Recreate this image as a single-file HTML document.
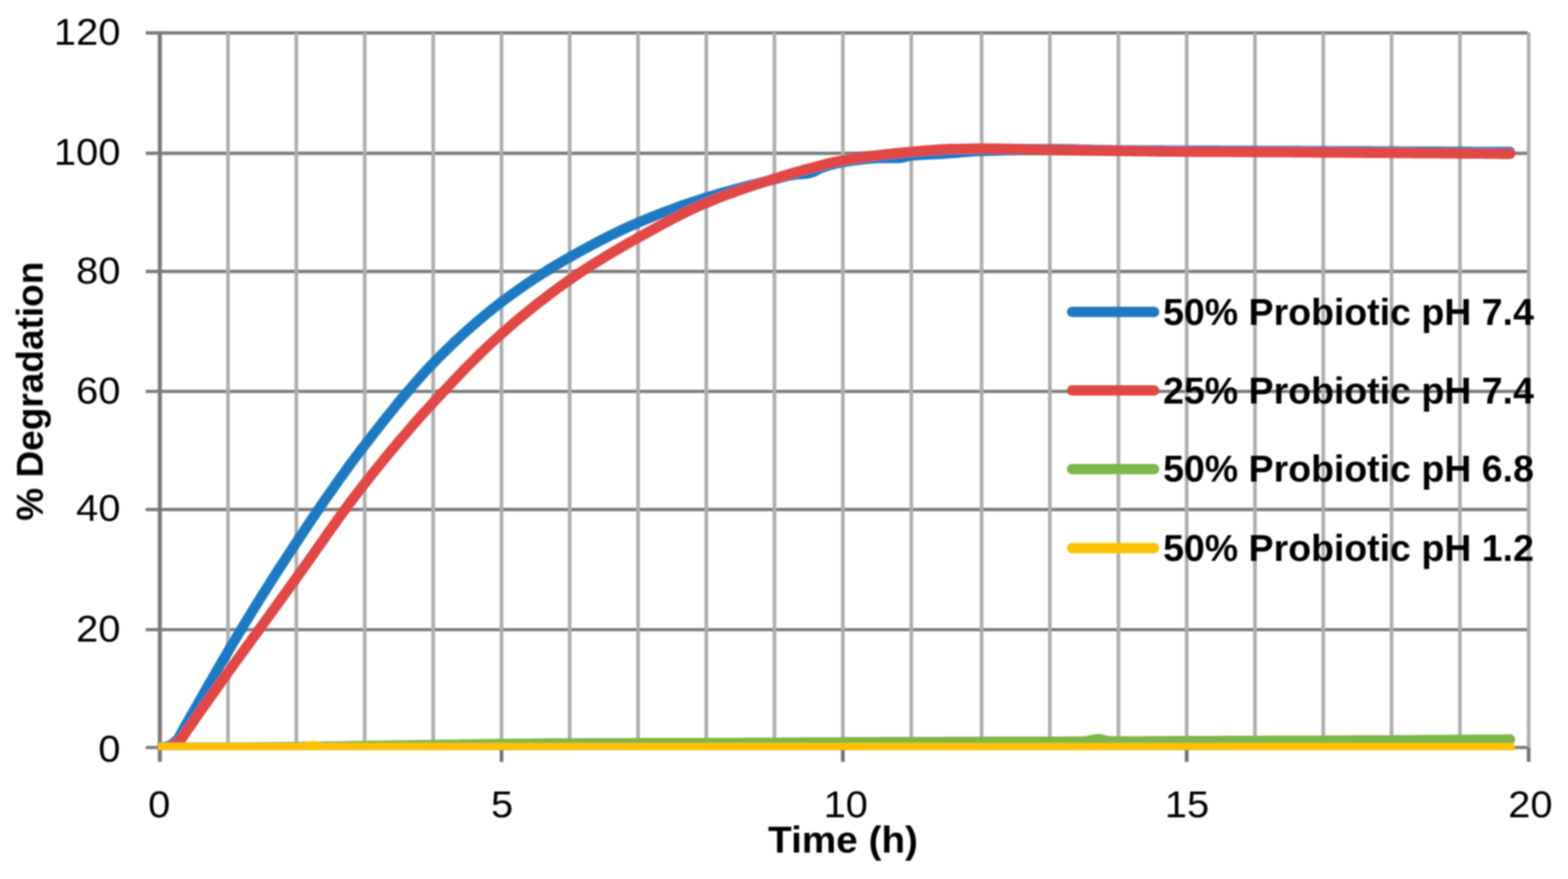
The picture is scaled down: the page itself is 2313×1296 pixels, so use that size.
<!DOCTYPE html>
<html lang="en"><head><meta charset="utf-8"><title>% Degradation vs Time (h)</title>
<style>
html,body{margin:0;padding:0;background:#fff;}
body{width:2313px;height:1296px;overflow:hidden;}
svg{display:block;}
text{font-family:"Liberation Sans",sans-serif;fill:#000;font-size:56px;}
.b{font-weight:bold;}
.s{fill:none;stroke-width:15.2;stroke-linejoin:round;stroke-linecap:round;}
</style></head><body>
<svg width="2313" height="1296" viewBox="0 0 2313 1296">
<defs>
<filter id="bl" x="-5%" y="-5%" width="110%" height="110%"><feGaussianBlur stdDeviation="1.0"/></filter>
<filter id="bt" x="-5%" y="-20%" width="110%" height="140%"><feGaussianBlur stdDeviation="0.9"/></filter>
<clipPath id="cp"><rect x="232.8" y="0" width="2040" height="1106"/></clipPath>
</defs>
<rect width="2313" height="1296" fill="#fff"/>
<g filter="url(#bl)">
<g stroke="#7c7c7c" stroke-width="4.9">
<line x1="214.9" x2="2253.5" y1="1102.1" y2="1102.1"/>
<line x1="214.9" x2="2253.5" y1="928.4" y2="928.4"/>
<line x1="214.9" x2="2253.5" y1="751.2" y2="751.2"/>
<line x1="214.9" x2="2253.5" y1="577.1" y2="577.1"/>
<line x1="214.9" x2="2253.5" y1="400.2" y2="400.2"/>
<line x1="214.9" x2="2253.5" y1="226.0" y2="226.0"/>
<line x1="214.9" x2="2253.5" y1="48.5" y2="48.5"/>
</g>
<g stroke="#adadad" stroke-width="5.4">
<line x1="336.4" x2="336.4" y1="48" y2="1102.1"/>
<line x1="437.1" x2="437.1" y1="48" y2="1102.1"/>
<line x1="538" x2="538" y1="48" y2="1102.1"/>
<line x1="639" x2="639" y1="48" y2="1102.1"/>
<line x1="739.8" x2="739.8" y1="48" y2="1102.1"/>
<line x1="840.3" x2="840.3" y1="48" y2="1102.1"/>
<line x1="941.2" x2="941.2" y1="48" y2="1102.1"/>
<line x1="1041.9" x2="1041.9" y1="48" y2="1102.1"/>
<line x1="1142.4" x2="1142.4" y1="48" y2="1102.1"/>
<line x1="1243.3" x2="1243.3" y1="48" y2="1102.1"/>
<line x1="1344.3" x2="1344.3" y1="48" y2="1102.1"/>
<line x1="1448" x2="1448" y1="48" y2="1102.1"/>
<line x1="1548.7" x2="1548.7" y1="48" y2="1102.1"/>
<line x1="1649.8" x2="1649.8" y1="48" y2="1102.1"/>
<line x1="1750.5" x2="1750.5" y1="48" y2="1102.1"/>
<line x1="1851.2" x2="1851.2" y1="48" y2="1102.1"/>
<line x1="1952" x2="1952" y1="48" y2="1102.1"/>
<line x1="2052.7" x2="2052.7" y1="48" y2="1102.1"/>
<line x1="2153.6" x2="2153.6" y1="48" y2="1102.1"/>
<line x1="2255" x2="2255" y1="48" y2="1102.1"/>
</g>
<line x1="235.8" x2="235.8" y1="50" y2="1123.3" stroke="#7a7a7a" stroke-width="6.0"/>
<g stroke="#707070" stroke-width="5.4">
<line x1="739.8" x2="739.8" y1="1102.1" y2="1123.3"/>
<line x1="1243.3" x2="1243.3" y1="1102.1" y2="1123.3"/>
<line x1="1750.5" x2="1750.5" y1="1102.1" y2="1123.3"/>
<line x1="2255" x2="2255" y1="1102.1" y2="1123.3"/>
</g>
</g>
<g filter="url(#bl)">
<g clip-path="url(#cp)">
<path class="s" stroke="#1d79c2" d="M235.8,1102.1 L239.8,1102.1 L242.4,1101.8 L245.9,1100.8 L249.1,1099.6 L251.9,1098.2 L255.7,1095.6 L256.9,1094.7 L261.7,1090.7 L262.4,1089.9 L269.0,1078.1 L271.0,1074.3 L275.6,1066.2 L282.3,1054.5 L288.9,1042.9 L295.5,1031.2 L302.2,1019.6 L308.8,1008.0 L312.7,1001.4 L315.5,996.5 L322.1,985.0 L328.7,973.6 L335.4,962.3 L336.4,960.5 L342.0,951.0 L348.7,939.8 L355.3,928.8 L355.5,928.4 L362.0,917.8 L368.6,907.0 L375.2,896.2 L381.9,885.5 L388.5,875.0 L395.2,864.5 L401.8,854.0 L408.5,843.7 L415.1,833.4 L421.8,823.2 L428.4,813.1 L435.0,803.0 L437.1,799.9 L441.7,793.0 L448.4,783.0 L455.0,773.0 L461.7,763.1 L468.3,753.2 L475.0,743.4 L481.6,733.8 L488.3,724.3 L495.0,714.8 L501.6,705.4 L508.3,696.2 L514.9,687.0 L521.6,678.0 L528.3,669.1 L534.9,660.3 L538.0,656.3 L541.6,651.7 L548.2,643.1 L554.9,634.6 L561.6,626.1 L568.2,617.7 L574.9,609.4 L581.6,601.2 L588.2,593.0 L594.9,585.0 L601.6,577.2 L608.2,569.4 L614.9,561.7 L621.5,554.2 L628.2,546.9 L634.9,539.8 L639.0,535.5 L641.5,532.9 L648.2,526.2 L654.8,519.6 L661.5,513.0 L668.1,506.6 L674.8,500.4 L681.4,494.2 L688.1,488.2 L694.8,482.3 L701.4,476.5 L708.1,470.8 L714.7,465.2 L721.4,459.8 L728.0,454.4 L734.7,449.2 L739.8,445.3 L741.3,444.2 L747.9,439.2 L754.6,434.3 L761.2,429.6 L767.8,424.9 L774.5,420.3 L781.1,415.8 L787.7,411.4 L794.4,407.0 L801.0,402.8 L807.6,398.6 L814.3,394.6 L820.9,390.6 L827.5,386.7 L834.1,382.8 L840.3,379.3 L840.8,379.0 L847.4,375.3 L854.1,371.6 L860.8,367.9 L867.4,364.3 L874.1,360.7 L880.7,357.2 L887.4,353.7 L894.0,350.4 L900.7,347.0 L907.4,343.8 L914.0,340.6 L920.7,337.5 L927.3,334.4 L934.0,331.5 L940.7,328.6 L941.2,328.3 L947.3,325.8 L953.9,323.0 L960.6,320.3 L967.2,317.7 L973.9,315.0 L980.5,312.5 L987.2,310.0 L993.8,307.5 L1000.5,305.1 L1007.1,302.8 L1013.7,300.5 L1020.4,298.3 L1027.0,296.1 L1033.7,293.9 L1040.3,291.8 L1041.9,291.3 L1047.0,289.8 L1053.6,287.8 L1060.2,285.8 L1066.9,283.9 L1073.5,282.1 L1080.1,280.2 L1086.8,278.4 L1093.4,276.7 L1100.0,274.9 L1106.6,273.2 L1113.3,271.6 L1119.9,269.9 L1126.5,268.2 L1133.2,266.6 L1139.8,265.0 L1142.4,264.3 L1146.5,263.3 L1153.1,261.5 L1159.8,259.8 L1166.4,258.4 L1172.7,257.4 L1173.1,257.3 L1179.7,256.7 L1186.4,256.3 L1192.8,255.6 L1193.1,255.6 L1199.7,253.4 L1206.4,249.9 L1213.0,246.9 L1213.0,246.9 L1219.7,244.8 L1226.3,242.8 L1233.0,241.1 L1239.7,239.7 L1243.3,239.1 L1246.3,238.6 L1253.0,237.6 L1259.7,236.6 L1266.3,235.7 L1273.0,234.9 L1279.6,234.2 L1286.3,233.7 L1293.0,233.2 L1299.6,233.0 L1303.9,233.0 L1306.3,233.0 L1313.0,233.0 L1319.6,233.0 L1324.1,233.0 L1326.3,232.9 L1333.0,231.8 L1339.6,230.2 L1344.3,229.5 L1346.3,229.3 L1353.2,228.7 L1360.0,228.2 L1366.9,227.8 L1373.7,227.5 L1380.6,227.2 L1387.4,226.8 L1394.2,226.4 L1401.1,226.0 L1401.3,226.0 L1407.9,225.5 L1414.8,224.9 L1421.6,224.3 L1428.5,223.7 L1435.3,223.2 L1442.1,222.7 L1448.0,222.4 L1449.0,222.4 L1455.6,222.1 L1462.3,221.9 L1468.9,221.6 L1475.5,221.3 L1482.2,221.1 L1488.8,220.9 L1495.5,220.7 L1502.1,220.5 L1508.8,220.3 L1515.4,220.2 L1522.1,220.0 L1528.7,219.9 L1535.3,219.9 L1542.0,219.8 L1548.6,219.8 L1548.7,219.8 L1555.3,219.8 L1562.0,219.9 L1568.6,219.9 L1575.3,220.1 L1582.0,220.2 L1588.7,220.3 L1595.3,220.5 L1602.0,220.6 L1608.7,220.8 L1615.3,221.0 L1622.0,221.1 L1628.7,221.3 L1635.4,221.4 L1642.0,221.5 L1648.7,221.6 L1649.8,221.6 L1655.4,221.6 L1662.0,221.7 L1668.6,221.7 L1675.3,221.7 L1681.9,221.8 L1688.6,221.8 L1695.2,221.8 L1701.9,221.9 L1708.5,221.9 L1715.2,221.9 L1721.8,222.0 L1728.4,222.0 L1735.1,222.0 L1741.7,222.0 L1748.4,222.1 L1755.0,222.1 L1761.7,222.1 L1768.3,222.1 L1775.0,222.2 L1781.6,222.2 L1788.3,222.2 L1794.9,222.2 L1801.5,222.3 L1808.2,222.3 L1814.8,222.3 L1821.5,222.3 L1828.1,222.4 L1834.8,222.4 L1841.4,222.4 L1848.1,222.4 L1851.2,222.4 L1854.7,222.5 L1861.4,222.5 L1868.0,222.5 L1874.7,222.6 L1881.3,222.6 L1888.0,222.6 L1894.6,222.6 L1901.3,222.7 L1907.9,222.7 L1914.6,222.7 L1921.2,222.8 L1927.9,222.8 L1934.5,222.8 L1941.2,222.9 L1947.8,222.9 L1954.5,222.9 L1961.1,223.0 L1967.8,223.0 L1974.4,223.0 L1981.1,223.0 L1987.7,223.1 L1994.3,223.1 L2001.0,223.1 L2007.6,223.2 L2014.3,223.2 L2020.9,223.2 L2027.6,223.3 L2034.2,223.3 L2040.9,223.3 L2047.5,223.4 L2054.1,223.4 L2060.8,223.4 L2067.5,223.5 L2074.1,223.5 L2080.8,223.5 L2087.4,223.5 L2094.1,223.6 L2100.8,223.6 L2107.4,223.6 L2114.1,223.7 L2120.7,223.7 L2127.4,223.7 L2134.0,223.8 L2140.7,223.8 L2147.4,223.8 L2154.0,223.9 L2160.7,223.9 L2167.4,223.9 L2174.1,224.0 L2180.8,224.0 L2187.5,224.0 L2194.2,224.1 L2200.9,224.1 L2207.5,224.1 L2214.2,224.2 L2220.9,224.2 L2227.6,224.2"/>
<path class="s" stroke="#e04644" d="M235.8,1102.1 L242.4,1102.1 L243.8,1102.1 L249.1,1101.0 L249.9,1100.8 L255.7,1098.3 L255.9,1098.2 L261.5,1094.7 L262.4,1094.1 L266.5,1090.7 L269.0,1087.7 L275.6,1077.5 L276.0,1076.9 L282.3,1068.0 L288.9,1058.5 L295.5,1049.0 L302.2,1039.6 L308.8,1030.2 L315.5,1020.8 L322.1,1011.4 L328.7,1002.1 L335.4,992.8 L336.4,991.4 L342.0,983.6 L348.7,974.4 L355.3,965.2 L362.0,956.1 L368.6,947.0 L375.2,937.9 L381.9,928.9 L382.2,928.4 L388.5,919.6 L395.2,910.4 L401.8,901.1 L408.5,891.9 L415.1,882.7 L421.8,873.5 L428.4,864.3 L435.0,855.1 L437.1,852.2 L441.7,845.8 L448.4,836.5 L455.0,827.1 L461.7,817.7 L468.3,808.2 L475.0,798.8 L481.6,789.3 L488.3,779.9 L495.0,770.5 L501.6,761.2 L508.3,752.0 L514.9,743.0 L521.6,734.1 L528.3,725.4 L534.9,716.8 L538.0,712.9 L541.6,708.4 L548.2,700.0 L554.9,691.7 L561.6,683.5 L568.2,675.3 L574.9,667.2 L581.6,659.2 L588.2,651.2 L594.9,643.4 L601.6,635.6 L608.2,627.9 L614.9,620.3 L621.5,612.8 L628.2,605.4 L634.9,598.1 L639.0,593.6 L641.5,590.9 L648.2,583.8 L654.8,576.7 L661.5,569.5 L668.1,562.5 L674.8,555.5 L681.4,548.5 L688.1,541.7 L694.8,535.0 L701.4,528.3 L708.1,521.8 L714.7,515.4 L721.4,509.0 L728.0,502.8 L734.7,496.8 L739.8,492.2 L741.3,490.9 L747.9,485.0 L754.6,479.3 L761.2,473.6 L767.8,468.0 L774.5,462.6 L781.1,457.2 L787.7,451.8 L794.4,446.6 L801.0,441.5 L807.6,436.4 L814.3,431.4 L820.9,426.5 L827.5,421.7 L834.1,416.9 L840.3,412.6 L840.8,412.2 L847.4,407.7 L854.1,403.1 L860.8,398.7 L867.4,394.4 L874.1,390.2 L880.7,386.0 L887.4,381.9 L894.0,377.8 L900.7,373.8 L907.4,369.9 L914.0,366.0 L920.7,362.2 L927.3,358.3 L934.0,354.6 L940.7,350.9 L941.2,350.6 L947.3,347.2 L953.9,343.5 L960.6,339.8 L967.2,336.1 L973.9,332.5 L980.5,328.9 L987.2,325.4 L993.8,321.9 L1000.5,318.5 L1007.1,315.2 L1013.7,311.9 L1020.4,308.7 L1027.0,305.7 L1033.7,302.7 L1040.3,299.8 L1041.9,299.2 L1047.0,297.1 L1053.6,294.4 L1060.2,291.8 L1066.9,289.2 L1073.5,286.7 L1080.1,284.3 L1086.8,281.9 L1093.4,279.6 L1100.0,277.3 L1106.6,275.1 L1113.3,272.9 L1119.9,270.7 L1126.5,268.5 L1133.2,266.4 L1139.8,264.3 L1142.4,263.5 L1146.5,262.2 L1153.1,260.1 L1159.8,258.1 L1166.4,256.1 L1173.1,254.1 L1179.7,252.2 L1186.4,250.4 L1192.8,248.6 L1193.1,248.6 L1199.7,246.8 L1206.4,245.0 L1213.0,243.3 L1219.7,241.5 L1226.3,239.9 L1233.0,238.4 L1239.7,237.1 L1243.3,236.5 L1246.3,235.9 L1253.0,234.8 L1259.7,233.8 L1266.3,232.8 L1273.0,231.8 L1279.6,230.9 L1286.3,230.0 L1293.0,229.2 L1299.6,228.4 L1306.3,227.6 L1313.0,226.8 L1319.6,226.1 L1326.3,225.5 L1333.0,224.8 L1339.6,224.2 L1344.3,223.8 L1346.3,223.6 L1353.2,223.0 L1360.0,222.4 L1366.9,221.8 L1373.7,221.3 L1380.6,220.8 L1387.4,220.4 L1394.2,220.0 L1401.1,219.7 L1406.5,219.6 L1407.9,219.6 L1414.8,219.5 L1421.6,219.4 L1428.5,219.3 L1435.3,219.2 L1442.1,219.1 L1449.0,219.1 L1455.6,219.1 L1458.1,219.1 L1462.3,219.1 L1468.9,219.1 L1475.5,219.2 L1482.2,219.3 L1488.8,219.4 L1495.5,219.6 L1502.1,219.7 L1508.8,219.9 L1515.4,220.1 L1522.1,220.2 L1528.7,220.4 L1535.3,220.6 L1542.0,220.7 L1548.6,220.9 L1548.7,220.9 L1555.3,221.0 L1562.0,221.1 L1568.6,221.2 L1575.3,221.3 L1582.0,221.4 L1588.7,221.5 L1595.3,221.6 L1602.0,221.7 L1608.7,221.8 L1615.3,221.9 L1622.0,222.0 L1628.7,222.1 L1635.4,222.2 L1642.0,222.3 L1648.7,222.4 L1649.8,222.4 L1655.4,222.5 L1662.0,222.6 L1668.6,222.7 L1675.3,222.8 L1681.9,222.9 L1688.6,223.0 L1695.2,223.1 L1701.9,223.2 L1708.5,223.3 L1715.2,223.3 L1721.8,223.4 L1728.4,223.5 L1735.1,223.6 L1741.7,223.6 L1748.4,223.7 L1750.5,223.7 L1755.0,223.7 L1761.7,223.8 L1768.3,223.8 L1775.0,223.8 L1781.6,223.9 L1788.3,223.9 L1794.9,224.0 L1801.5,224.0 L1808.2,224.0 L1814.8,224.0 L1821.5,224.1 L1828.1,224.1 L1834.8,224.1 L1841.4,224.2 L1848.1,224.2 L1851.2,224.2 L1854.7,224.2 L1861.4,224.3 L1868.0,224.3 L1874.7,224.4 L1881.3,224.4 L1888.0,224.4 L1894.6,224.5 L1901.3,224.5 L1907.9,224.6 L1914.6,224.6 L1921.2,224.7 L1927.9,224.7 L1934.5,224.7 L1941.2,224.8 L1947.8,224.8 L1954.5,224.9 L1961.1,224.9 L1967.8,224.9 L1974.4,225.0 L1981.1,225.0 L1987.7,225.1 L1994.3,225.1 L2001.0,225.2 L2007.6,225.2 L2014.3,225.3 L2020.9,225.3 L2027.6,225.4 L2034.2,225.4 L2040.9,225.4 L2047.5,225.5 L2054.1,225.5 L2060.8,225.6 L2067.5,225.6 L2074.1,225.7 L2080.8,225.7 L2087.4,225.8 L2094.1,225.8 L2100.8,225.9 L2107.4,225.9 L2114.1,226.0 L2120.7,226.0 L2127.4,226.1 L2134.0,226.1 L2140.7,226.2 L2147.4,226.2 L2154.0,226.3 L2160.7,226.3 L2167.4,226.4 L2174.1,226.4 L2180.8,226.5 L2187.5,226.5 L2194.2,226.6 L2200.9,226.7 L2207.5,226.7 L2214.2,226.8 L2220.9,226.8 L2227.6,226.9"/>
<path class="s" stroke="#7eb648" d="M235.8,1102.1 L242.4,1102.1 L249.1,1102.1 L255.7,1102.1 L262.4,1102.1 L269.0,1102.1 L275.6,1102.1 L282.3,1102.1 L288.9,1102.1 L295.5,1102.1 L302.2,1102.1 L308.8,1102.1 L315.5,1102.1 L322.1,1102.1 L328.7,1102.1 L335.4,1102.1 L336.4,1102.1 L342.0,1102.1 L348.7,1102.1 L355.3,1102.1 L362.0,1102.0 L368.6,1102.0 L375.2,1101.9 L381.9,1101.9 L388.5,1101.8 L395.2,1101.8 L401.8,1101.7 L408.5,1101.6 L415.1,1101.6 L421.8,1101.5 L428.4,1101.4 L435.0,1101.3 L437.1,1101.3 L441.7,1101.3 L448.4,1101.2 L455.0,1101.1 L461.7,1101.0 L468.3,1100.9 L475.0,1100.8 L481.6,1100.7 L488.3,1100.6 L495.0,1100.5 L501.6,1100.4 L508.3,1100.3 L514.9,1100.2 L521.6,1100.1 L528.3,1100.0 L534.9,1099.9 L538.0,1099.8 L541.6,1099.8 L548.2,1099.7 L554.9,1099.6 L561.6,1099.5 L568.2,1099.4 L574.9,1099.3 L581.6,1099.2 L588.2,1099.1 L594.9,1099.0 L601.6,1098.9 L608.2,1098.8 L614.9,1098.7 L621.5,1098.6 L628.2,1098.5 L634.9,1098.4 L639.0,1098.4 L641.5,1098.3 L648.2,1098.2 L654.8,1098.1 L661.5,1098.0 L668.1,1097.9 L674.8,1097.8 L681.4,1097.7 L688.1,1097.6 L694.8,1097.5 L701.4,1097.4 L708.1,1097.3 L714.7,1097.2 L721.4,1097.1 L728.0,1097.0 L734.7,1096.9 L739.8,1096.9 L741.3,1096.9 L747.9,1096.8 L754.6,1096.7 L761.2,1096.7 L767.8,1096.6 L774.5,1096.5 L781.1,1096.5 L787.7,1096.4 L794.4,1096.3 L801.0,1096.3 L807.6,1096.2 L814.3,1096.2 L820.9,1096.1 L827.5,1096.1 L834.1,1096.0 L840.3,1096.0 L840.8,1096.0 L847.4,1096.0 L854.1,1096.0 L860.8,1095.9 L867.4,1095.9 L874.1,1095.9 L880.7,1095.9 L887.4,1095.9 L894.0,1095.8 L900.7,1095.8 L907.4,1095.8 L914.0,1095.8 L920.7,1095.8 L927.3,1095.8 L934.0,1095.8 L940.7,1095.7 L947.3,1095.7 L953.9,1095.7 L960.6,1095.7 L967.2,1095.7 L973.9,1095.7 L980.5,1095.7 L987.2,1095.6 L993.8,1095.6 L1000.5,1095.6 L1007.1,1095.6 L1013.7,1095.6 L1020.4,1095.6 L1027.0,1095.5 L1033.7,1095.5 L1040.3,1095.5 L1041.9,1095.5 L1047.0,1095.5 L1053.6,1095.5 L1060.2,1095.4 L1066.9,1095.4 L1073.5,1095.4 L1080.1,1095.3 L1086.8,1095.3 L1093.4,1095.3 L1100.0,1095.2 L1106.6,1095.2 L1113.3,1095.2 L1119.9,1095.1 L1126.5,1095.1 L1133.2,1095.0 L1139.8,1095.0 L1146.5,1095.0 L1153.1,1094.9 L1159.8,1094.9 L1166.4,1094.9 L1173.1,1094.8 L1179.7,1094.8 L1186.4,1094.7 L1193.1,1094.7 L1199.7,1094.7 L1206.4,1094.6 L1213.0,1094.6 L1219.7,1094.6 L1226.3,1094.5 L1233.0,1094.5 L1239.7,1094.5 L1243.3,1094.5 L1246.3,1094.4 L1253.0,1094.4 L1259.7,1094.4 L1266.3,1094.4 L1273.0,1094.3 L1279.6,1094.3 L1286.3,1094.3 L1293.0,1094.3 L1299.6,1094.2 L1306.3,1094.2 L1313.0,1094.2 L1319.6,1094.2 L1326.3,1094.2 L1333.0,1094.1 L1339.6,1094.1 L1346.3,1094.1 L1353.2,1094.1 L1360.0,1094.0 L1366.9,1094.0 L1373.7,1094.0 L1380.6,1094.0 L1387.4,1094.0 L1394.2,1093.9 L1401.1,1093.9 L1407.9,1093.9 L1414.8,1093.9 L1421.6,1093.8 L1428.5,1093.8 L1435.3,1093.8 L1442.1,1093.8 L1448.0,1093.8 L1449.0,1093.8 L1455.6,1093.7 L1462.3,1093.7 L1468.9,1093.7 L1475.5,1093.7 L1482.2,1093.7 L1488.8,1093.7 L1495.5,1093.7 L1502.1,1093.6 L1508.8,1093.6 L1515.4,1093.6 L1522.1,1093.6 L1528.7,1093.6 L1535.3,1093.6 L1542.0,1093.6 L1548.6,1093.5 L1555.3,1093.5 L1562.0,1093.5 L1568.6,1093.5 L1575.3,1093.4 L1582.0,1093.4 L1588.7,1093.3 L1595.3,1093.3 L1599.2,1093.2 L1602.0,1093.1 L1608.7,1091.7 L1615.3,1090.3 L1619.5,1089.9 L1622.0,1090.1 L1628.7,1091.3 L1635.4,1092.8 L1639.7,1093.2 L1642.0,1093.2 L1648.7,1093.1 L1655.4,1093.1 L1662.0,1093.1 L1668.6,1093.1 L1675.3,1093.1 L1681.9,1093.0 L1688.6,1093.0 L1695.2,1092.9 L1701.9,1092.9 L1708.5,1092.9 L1715.2,1092.8 L1721.8,1092.8 L1728.4,1092.7 L1735.1,1092.7 L1741.7,1092.7 L1748.4,1092.6 L1750.5,1092.6 L1755.0,1092.6 L1761.7,1092.6 L1768.3,1092.6 L1775.0,1092.5 L1781.6,1092.5 L1788.3,1092.5 L1794.9,1092.5 L1801.5,1092.4 L1808.2,1092.4 L1814.8,1092.4 L1821.5,1092.4 L1828.1,1092.4 L1834.8,1092.3 L1841.4,1092.3 L1848.1,1092.3 L1854.7,1092.3 L1861.4,1092.3 L1868.0,1092.2 L1874.7,1092.2 L1881.3,1092.2 L1888.0,1092.2 L1894.6,1092.2 L1901.3,1092.1 L1907.9,1092.1 L1914.6,1092.1 L1921.2,1092.1 L1927.9,1092.0 L1934.5,1092.0 L1941.2,1092.0 L1947.8,1092.0 L1952.0,1091.9 L1954.5,1091.9 L1961.1,1091.9 L1967.8,1091.9 L1974.4,1091.8 L1981.1,1091.8 L1987.7,1091.8 L1994.3,1091.7 L2001.0,1091.7 L2007.6,1091.7 L2014.3,1091.7 L2020.9,1091.6 L2027.6,1091.6 L2034.2,1091.6 L2040.9,1091.5 L2047.5,1091.5 L2054.1,1091.4 L2060.8,1091.4 L2067.5,1091.4 L2074.1,1091.3 L2080.8,1091.3 L2087.4,1091.3 L2094.1,1091.2 L2100.8,1091.2 L2107.4,1091.1 L2114.1,1091.1 L2120.7,1091.1 L2127.4,1091.0 L2134.0,1091.0 L2140.7,1090.9 L2147.4,1090.9 L2154.0,1090.9 L2160.7,1090.8 L2167.4,1090.8 L2174.1,1090.7 L2180.8,1090.7 L2187.5,1090.6 L2194.2,1090.6 L2200.9,1090.6 L2207.5,1090.5 L2214.2,1090.5 L2220.9,1090.4 L2227.6,1090.4"/>
<path class="s" stroke="#ffc000" d="M235.8,1102.8 L242.4,1102.8 L249.1,1102.8 L255.7,1102.8 L262.4,1102.8 L269.0,1102.8 L275.6,1102.8 L282.3,1102.8 L288.9,1102.8 L295.5,1102.8 L302.2,1102.8 L308.8,1102.8 L315.5,1102.8 L322.1,1102.8 L328.7,1102.8 L335.4,1102.8 L342.0,1102.8 L348.7,1102.8 L355.3,1102.8 L362.0,1102.8 L368.6,1102.8 L375.2,1102.8 L381.9,1102.8 L388.5,1102.8 L395.2,1102.8 L401.8,1102.8 L408.5,1102.8 L415.1,1102.8 L421.8,1102.8 L428.4,1102.8 L435.0,1102.8 L441.7,1102.8 L447.2,1102.8 L448.4,1102.8 L455.0,1101.3 L461.7,1099.9 L462.3,1099.9 L468.3,1100.9 L475.0,1102.6 L477.5,1102.8 L481.6,1102.8 L488.3,1102.8 L495.0,1102.8 L501.6,1102.8 L508.3,1102.8 L514.9,1102.8 L521.6,1102.8 L528.3,1102.8 L534.9,1102.8 L541.6,1102.8 L548.2,1102.8 L554.9,1102.8 L561.6,1102.8 L568.2,1102.8 L574.9,1102.8 L581.6,1102.8 L588.2,1102.8 L594.9,1102.8 L601.6,1102.8 L608.2,1102.8 L614.9,1102.8 L621.5,1102.8 L628.2,1102.8 L634.9,1102.8 L641.5,1102.8 L648.2,1102.8 L654.8,1102.8 L661.5,1102.8 L668.1,1102.8 L674.8,1102.8 L681.4,1102.8 L688.1,1102.8 L694.8,1102.8 L701.4,1102.8 L708.1,1102.8 L714.7,1102.8 L721.4,1102.8 L728.0,1102.8 L734.7,1102.8 L741.3,1102.8 L747.9,1102.8 L754.6,1102.8 L761.2,1102.8 L767.8,1102.8 L774.5,1102.8 L781.1,1102.8 L787.7,1102.8 L794.4,1102.8 L801.0,1102.8 L807.6,1102.8 L814.3,1102.8 L820.9,1102.8 L827.5,1102.8 L834.1,1102.8 L840.8,1102.8 L847.4,1102.8 L854.1,1102.8 L860.8,1102.8 L867.4,1102.8 L874.1,1102.8 L880.7,1102.8 L887.4,1102.8 L894.0,1102.8 L900.7,1102.8 L907.4,1102.8 L914.0,1102.8 L920.7,1102.8 L927.3,1102.8 L934.0,1102.8 L940.7,1102.8 L947.3,1102.8 L953.9,1102.8 L960.6,1102.8 L967.2,1102.8 L973.9,1102.8 L980.5,1102.8 L987.2,1102.8 L993.8,1102.8 L1000.5,1102.8 L1007.1,1102.8 L1013.7,1102.8 L1020.4,1102.8 L1027.0,1102.8 L1033.7,1102.8 L1040.3,1102.8 L1047.0,1102.8 L1053.6,1102.8 L1060.2,1102.8 L1066.9,1102.8 L1073.5,1102.8 L1080.1,1102.8 L1086.8,1102.8 L1093.4,1102.8 L1100.0,1102.8 L1106.6,1102.8 L1113.3,1102.8 L1119.9,1102.8 L1126.5,1102.8 L1133.2,1102.8 L1139.8,1102.8 L1146.5,1102.8 L1153.1,1102.8 L1159.8,1102.8 L1166.4,1102.8 L1173.1,1102.8 L1179.7,1102.8 L1186.4,1102.8 L1193.1,1102.8 L1199.7,1102.8 L1206.4,1102.8 L1213.0,1102.8 L1219.7,1102.8 L1226.3,1102.8 L1233.0,1102.8 L1239.7,1102.8 L1246.3,1102.8 L1253.0,1102.8 L1259.7,1102.8 L1266.3,1102.8 L1273.0,1102.8 L1279.6,1102.8 L1286.3,1102.8 L1293.0,1102.8 L1299.6,1102.8 L1306.3,1102.8 L1313.0,1102.8 L1319.6,1102.8 L1326.3,1102.8 L1333.0,1102.8 L1339.6,1102.8 L1346.3,1102.8 L1353.2,1102.8 L1360.0,1102.8 L1366.9,1102.8 L1373.7,1102.8 L1380.6,1102.8 L1387.4,1102.8 L1394.2,1102.8 L1401.1,1102.8 L1407.9,1102.8 L1414.8,1102.8 L1421.6,1102.8 L1428.5,1102.8 L1435.3,1102.8 L1442.1,1102.8 L1449.0,1102.8 L1455.6,1102.8 L1462.3,1102.8 L1468.9,1102.8 L1475.5,1102.8 L1482.2,1102.8 L1488.8,1102.8 L1495.5,1102.8 L1502.1,1102.8 L1508.8,1102.8 L1515.4,1102.8 L1522.1,1102.8 L1528.7,1102.8 L1535.3,1102.8 L1542.0,1102.8 L1548.6,1102.8 L1555.3,1102.8 L1562.0,1102.8 L1568.6,1102.8 L1575.3,1102.8 L1582.0,1102.8 L1588.7,1102.8 L1595.3,1102.8 L1602.0,1102.8 L1608.7,1102.8 L1615.3,1102.8 L1622.0,1102.8 L1628.7,1102.8 L1635.4,1102.8 L1642.0,1102.8 L1648.7,1102.8 L1655.4,1102.8 L1662.0,1102.8 L1668.6,1102.8 L1675.3,1102.8 L1681.9,1102.8 L1688.6,1102.8 L1695.2,1102.8 L1701.9,1102.8 L1708.5,1102.8 L1715.2,1102.8 L1721.8,1102.8 L1728.4,1102.8 L1735.1,1102.8 L1741.7,1102.8 L1748.4,1102.8 L1755.0,1102.8 L1761.7,1102.8 L1768.3,1102.8 L1775.0,1102.8 L1781.6,1102.8 L1788.3,1102.8 L1794.9,1102.8 L1801.5,1102.8 L1808.2,1102.8 L1814.8,1102.8 L1821.5,1102.8 L1828.1,1102.8 L1834.8,1102.8 L1841.4,1102.8 L1848.1,1102.8 L1854.7,1102.8 L1861.4,1102.8 L1868.0,1102.8 L1874.7,1102.8 L1881.3,1102.8 L1888.0,1102.8 L1894.6,1102.8 L1901.3,1102.8 L1907.9,1102.8 L1914.6,1102.8 L1921.2,1102.8 L1927.9,1102.8 L1934.5,1102.8 L1941.2,1102.8 L1947.8,1102.8 L1954.5,1102.8 L1961.1,1102.8 L1967.8,1102.8 L1974.4,1102.8 L1981.1,1102.8 L1987.7,1102.8 L1994.3,1102.8 L2001.0,1102.8 L2007.6,1102.8 L2014.3,1102.8 L2020.9,1102.8 L2027.6,1102.8 L2034.2,1102.8 L2040.9,1102.8 L2047.5,1102.8 L2054.1,1102.8 L2060.8,1102.8 L2067.5,1102.8 L2074.1,1102.8 L2080.8,1102.8 L2087.4,1102.8 L2094.1,1102.8 L2100.8,1102.8 L2107.4,1102.8 L2114.1,1102.8 L2120.7,1102.8 L2127.4,1102.8 L2134.0,1102.8 L2140.7,1102.8 L2147.4,1102.8 L2154.0,1102.8 L2160.7,1102.8 L2167.4,1102.8 L2174.1,1102.8 L2180.8,1102.8 L2187.5,1102.8 L2194.2,1102.8 L2200.9,1102.8 L2207.5,1102.8 L2214.2,1102.8 L2220.9,1102.8 L2227.6,1102.8"/>
</g>
<line class="s" stroke="#1d79c2" x1="1581.5" x2="1702.5" y1="459.8" y2="459.8"/>
<line class="s" stroke="#e04644" x1="1581.5" x2="1702.5" y1="575.7" y2="575.7"/>
<line class="s" stroke="#7eb648" x1="1581.5" x2="1702.5" y1="691.7" y2="691.7"/>
<line class="s" stroke="#ffc000" x1="1581.5" x2="1702.5" y1="808.1" y2="808.1"/>
</g>
<g filter="url(#bt)">
<text transform="translate(177.6,1122.7) scale(1.05,1)" text-anchor="end">0</text>
<text transform="translate(177.6,945.6) scale(1.05,1)" text-anchor="end">20</text>
<text transform="translate(177.6,768.2) scale(1.05,1)" text-anchor="end">40</text>
<text transform="translate(177.6,594.7) scale(1.05,1)" text-anchor="end">60</text>
<text transform="translate(177.6,417.7) scale(1.05,1)" text-anchor="end">80</text>
<text transform="translate(177.6,242.7) scale(1.05,1)" text-anchor="end">100</text>
<text transform="translate(177.6,66.1) scale(1.05,1)" text-anchor="end">120</text>
<text transform="translate(234.9,1205.0) scale(1.05,1)" text-anchor="middle">0</text>
<text transform="translate(740.7,1205.0) scale(1.05,1)" text-anchor="middle">5</text>
<text transform="translate(1247.6,1205.0) scale(1.05,1)" text-anchor="middle">10</text>
<text transform="translate(1751.0,1205.0) scale(1.05,1)" text-anchor="middle">15</text>
<text transform="translate(2257.5,1205.0) scale(1.05,1)" text-anchor="middle">20</text>
<text transform="translate(1243.6,1256.8)" text-anchor="middle" class="b" textLength="221" lengthAdjust="spacingAndGlyphs" style="font-size:56px">Time (h)</text>
<text transform="translate(63.0,576.8) rotate(-90)" text-anchor="middle" class="b" textLength="382" lengthAdjust="spacingAndGlyphs" style="font-size:56px">% Degradation</text>
<text transform="translate(1715.7,479.0)" class="b" textLength="547" lengthAdjust="spacingAndGlyphs" style="font-size:56px">50% Probiotic pH 7.4</text>
<text transform="translate(1715.7,595.4)" class="b" textLength="547" lengthAdjust="spacingAndGlyphs" style="font-size:56px">25% Probiotic pH 7.4</text>
<text transform="translate(1715.7,710.4)" class="b" textLength="547" lengthAdjust="spacingAndGlyphs" style="font-size:56px">50% Probiotic pH 6.8</text>
<text transform="translate(1715.7,826.8)" class="b" textLength="547" lengthAdjust="spacingAndGlyphs" style="font-size:56px">50% Probiotic pH 1.2</text>
</g>
</svg></body></html>
